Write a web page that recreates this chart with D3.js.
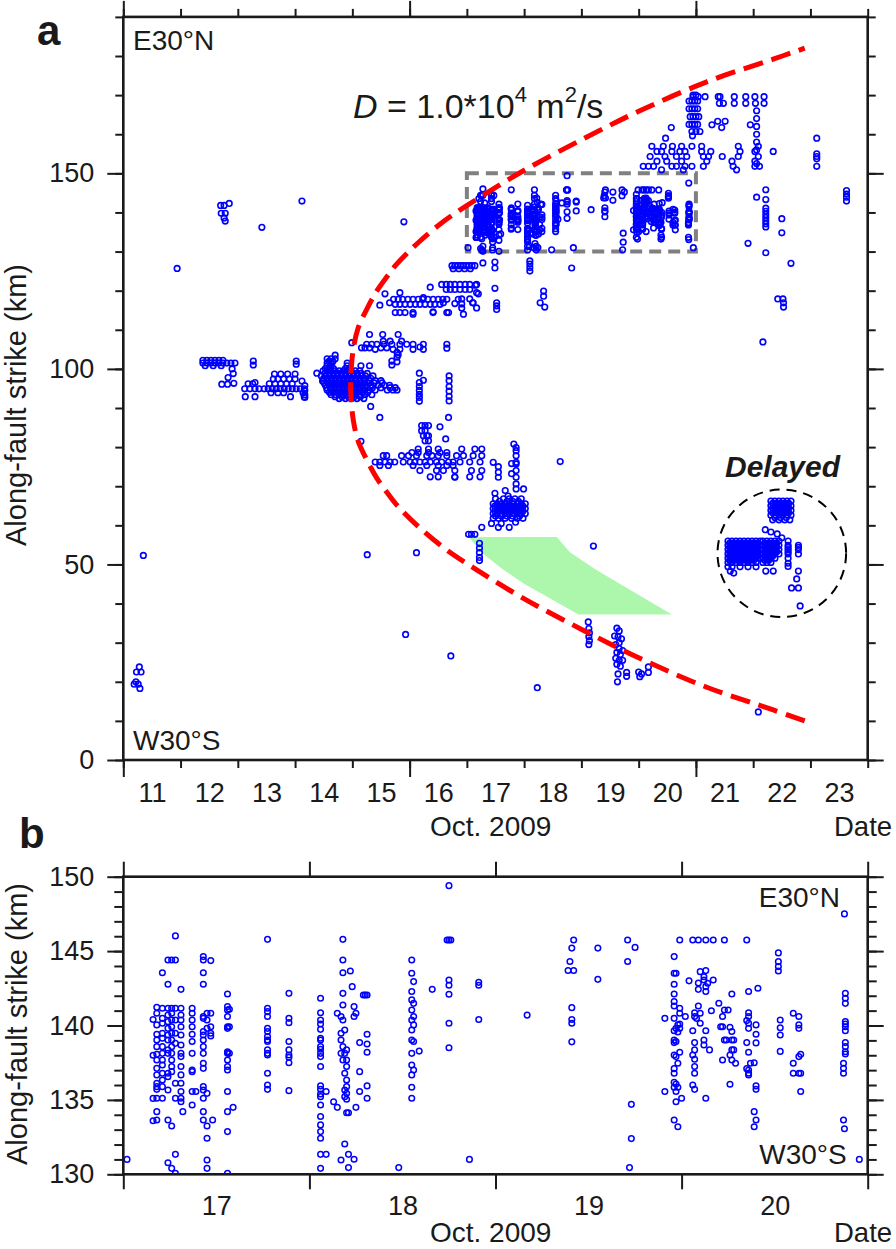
<!DOCTYPE html>
<html><head><meta charset="utf-8">
<script src="https://cdn.jsdelivr.net/npm/d3@7"></script>
<style>
html,body{margin:0;padding:0;background:#fff;}
svg{display:block;}
</style></head><body>
<svg id="chart" width="896" height="1249"></svg>
<script>
// ---------------- DATA (day of Oct 2009, km along strike) ----------------
const dayLabelsA = [11,12,13,14,15,16,17,18,19,20,21,22,23];
const kmTicksA = [0,50,100,150];
const dayLabelsB = [17,18,19,20];
const kmTicksB = [130,135,140,145,150];

// diffusion front (D = 1.0e4 m2/s), lower end -> upper end
const diffusionFront = [[22.90,10.0],[22.35,12.8],[21.19,18.6],[20.02,26.0],[19.03,33.2],[17.98,41.4],[17.11,49.2],[16.62,54.0],[16.13,60.0],[15.77,65.3],[15.60,68.5],[15.43,72.0],[15.26,76.5],[15.10,81.6],[15.02,86.6],[14.98,92],[14.97,96],
[14.98,100],[15.02,105.4],[15.10,110.4],[15.26,115.5],[15.43,120.0],[15.60,123.5],[15.77,126.7],[16.13,132.0],[16.62,138.0],[17.11,142.8],[17.98,150.6],[19.03,158.8],[20.02,166.0],[21.19,173.4],[22.35,179.2],[22.90,182.0]];

const greenZone = [[17.03,57.0],[18.57,57.0],[18.80,53.1],[19.27,48.5],[20.58,37.2],[18.95,37.2],[17.99,45.1],[17.58,49.3],[17.29,52.7]];
const zoomBox = [17,21,130,150];           // day0, day1, km0, km1
const delayedCircle = [22.50,52.85,1.123,16.3]; // day, km, radius(days), radius(km)

const eventsEarly = [[11.28,23.8],[11.23,22.5],[11.31,22.5],[11.22,20.0],[11.19,19.4],[11.26,19.4],[11.29,18.3],[11.35,52.3],[11.94,125.7],[12.70,141.8],[12.76,141.8],[12.85,142.3],[12.71,139.8],[12.78,139.8],[12.76,138.6],[12.78,137.8],[13.42,136.2],[14.12,142.9],[15.90,137.6],
[12.92,98.8],[12.83,97.8],[12.72,96.1],[12.82,96.1],[12.93,96.3],[12.90,100.0],[13.27,102.0],[13.27,101.0],[14.12,96.9],[14.02,102.0],[14.02,101.2],[14.17,95.7],[14.17,94.5],[14.17,93.4],[14.17,92.7],[13.30,96.5]];

const band95Rows = [
[94.9,[13.12,13.21,13.30,13.37,13.46,13.53,13.60,13.67,13.74,13.81,13.88,13.95,14.02,14.09,14.16]],
[96.2,[13.18,13.26,13.55,13.65,13.75,13.85,13.95]],
[97.4,[13.62,13.70,13.80,13.90,14.00]],
[98.7,[13.64,13.75,13.87,14.00]],
[92.9,[13.13,13.30,13.92,14.16]],
[93.9,[13.58,13.70,13.80,14.14]],
[101.5,[12.39,12.46,12.53,12.60,12.67,12.74,12.81,12.88,12.95]],
[102.2,[12.39,12.46,12.53,12.60,12.67,12.74]],
[100.8,[12.43,12.57,12.71]]];

const blobRows = [
[102.6,[14.56,14.63,14.70]],
[101.9,[14.59,14.66]],
[101.5,[14.56,14.63,14.91]],
[100.8,[14.56,14.63,14.91,15.15,15.30]],
[100.1,[14.53,14.60,14.67,14.88,14.95]],
[99.5,[14.49,14.56,14.63,14.70,14.77,14.84,14.91,14.98,15.05,15.13]],
[98.85,[14.52,14.59,14.66,14.73,14.80,14.87,14.94,15.01,15.08,15.15,15.26]],
[98.2,[14.46,14.53,14.60,14.67,14.74,14.81,14.88,14.95,15.02,15.09,15.16,15.23,15.36]],
[97.6,[14.50,14.57,14.64,14.71,14.78,14.85,14.92,14.99,15.06,15.13,15.20,15.32]],
[97.0,[14.49,14.56,14.63,14.70,14.77,14.84,14.91,14.98,15.05,15.13,15.22,15.29,15.40,15.50]],
[96.4,[14.51,14.58,14.65,14.72,14.79,14.86,14.93,15.00,15.07,15.14,15.21,15.27,15.38,15.52]],
[95.8,[14.53,14.60,14.67,14.74,14.81,14.88,14.95,15.02,15.09,15.16,15.23,15.32,15.45,15.56,15.65]],
[95.2,[14.55,14.62,14.69,14.76,14.83,14.90,14.97,15.04,15.11,15.18,15.25,15.35,15.50,15.66,15.75]],
[94.6,[14.56,14.63,14.70,14.77,14.84,14.91,14.98,15.05,15.13,15.22,15.29,15.40,15.61,15.71,15.78]],
[94.0,[14.60,14.67,14.74,14.81,14.88,14.95,15.02,15.09,15.17,15.27]],
[93.4,[14.63,14.70,14.77,14.84,14.91,14.98,15.05,15.13,15.22,15.34]],
[92.9,[14.70,14.82,14.93,15.03,15.14]],
[92.4,[14.77,14.88,14.98,15.08,15.20]]];

const eventsMid = [[14.38,98.9],[14.48,96.9],[15.32,90.4],[15.48,87.6],[15.15,81.5],[14.70,103.5],
[16.17,98.9],[16.17,96.5],[16.17,95.5],[16.17,94.5],[16.17,93.5],[16.17,92.7],[16.17,91.7],[16.24,97.1],
[16.69,98.2],[16.69,97.0],[16.69,95.5],[16.69,94.3],[16.69,93.0],[16.69,91.8],[16.68,87.6],[16.65,105.3],
[14.99,106.7],[15.16,105.4],[15.22,105.4],[15.25,106.3],[15.30,105.4],[15.34,106.3],[15.40,105.0],[15.43,106.3],[15.50,105.4],[15.55,106.3],[15.60,105.4],[15.69,106.3],[15.71,105.0],[15.83,106.3],[15.83,105.0],[15.95,106.3],[16.06,106.3],[16.06,105.0],[16.18,105.6],[16.24,106.3],[16.24,105.0],[16.65,106.3],[15.30,108.8],[15.53,108.8],[15.80,108.8],[15.54,107.1],[15.66,107.1],[15.86,107.1],[15.80,103.6],[15.69,102.0],[15.69,101.0],[15.78,104.2],[15.78,103.0],[15.78,101.8],
[15.48,116.3],[15.57,119.2],[15.65,116.9],[15.83,119.5],[16.06,114.0],[16.36,120.9],[16.24,118.2],
[16.59,116.9],[16.79,116.7],[16.85,117.8],[16.94,114.0],[17.05,117.9],[17.11,116.9],[17.17,115.6],[17.20,119.2],[17.49,120.6],[17.52,116.9],[17.52,116.1],[17.52,115.2],[18.34,119.9],[18.34,118.6],[18.28,116.9],[18.36,115.8],[16.41,114.6],[16.68,114.4],[16.91,117.9],[16.91,116.6],[16.91,115.6],[17.10,116.9],
[17.15,121.4],[17.17,119.5],
[17.28,127.1],[17.49,127.3],[17.49,125.8],[18.10,127.6],[18.10,126.8],[18.10,125.9],[18.10,125.0],[18.83,125.8]];

const band117Rows = [
[117.8,[15.72,15.80,15.88,15.97,16.06,16.15,16.23,16.32,16.41,16.50,16.58,16.65]],
[116.5,[15.75,15.83,15.92,16.01,16.10,16.18,16.27,16.36,16.44,16.53]],
[114.4,[15.75,15.83,15.92,16.06,16.41,16.65]],
[121.6,[16.56,16.64,16.71,16.79,16.88,16.97,17.05,17.17]],
[120.3,[16.64,16.71,16.79,16.88,16.97,17.05]],
[126.4,[16.74,16.79,16.84,16.89,16.94,16.99,17.04,17.09,17.14]],
[125.6,[16.76,16.86,16.96,17.06]]];

const band77Rows = [
[76.2,[15.40,15.48,15.57,15.66,15.74,15.89,16.01,16.09,16.18,16.27,16.36,16.47,16.56,16.68,16.76,16.88,17.05,17.23]],
[77.8,[15.54,15.60,15.86,15.98,16.12,16.30,16.39,16.50,16.65,16.82,16.94,17.11,17.26]],
[78.6,[16.04,16.15,16.33,16.53,16.65]],
[79.5,[16.15,16.33,16.50,16.91,17.14,17.26]],
[75.3,[15.48,15.63,16.06,16.30,16.50,16.65,16.76]],
[74.0,[16.18,16.47,16.59,16.79,17.08,17.26]],
[72.4,[16.36,16.50,16.79,17.05,17.23]]];

const cluster64Rows = [
[66.8,[17.50,17.64,17.74,17.84,17.95]],
[66.15,[17.57,17.70,17.80,17.90]],
[65.5,[17.46,17.53,17.60,17.67,17.74,17.81,17.88,17.95,18.02]],
[64.9,[17.49,17.56,17.63,17.70,17.77,17.84,17.91,17.98]],
[64.3,[17.46,17.53,17.60,17.67,17.74,17.81,17.88,17.95,18.02]],
[63.65,[17.49,17.56,17.63,17.70,17.77,17.84,17.91,17.98]],
[63.0,[17.46,17.53,17.60,17.67,17.74,17.81,17.88,17.95,18.02]],
[62.4,[17.50,17.60,17.70,17.80,17.92]],
[61.8,[17.46,17.55,17.67,17.78,17.88,17.98]]];

const eventsSouth = [[16.21,85.5],[16.27,85.5],[16.33,85.5],[16.21,84.2],[16.27,84.2],[16.24,82.9],[16.30,82.9],[16.33,82.9],[16.27,81.6],[16.33,81.6],[16.53,85.2],[16.63,82.1],
[17.86,79.9],[17.86,79.1],[17.86,77.8],[17.86,76.1],[17.86,75.7],[17.86,74.0],[17.86,72.3],[17.86,70.6],[17.86,69.3],[17.99,69.3],[17.82,80.8],
[18.63,76.3],[17.46,76.1],[17.55,75.0],[17.55,73.6],[17.55,72.3],[17.78,75.8],[17.78,73.2],[16.79,72.3],
[17.49,68.2],[17.67,68.9],[17.72,67.5],[17.55,59.5],[17.74,59.5],[17.43,60.5],[17.26,59.5],[17.60,60.5],[17.85,60.8],
[17.03,57.7],[17.08,57.7],[17.14,57.7],[17.22,55.4],[17.22,54.2],[17.22,53.0],[17.22,51.8],[17.22,51.0],
[15.26,52.5],[16.12,53.0],[15.93,32.1],[16.72,26.6],[18.23,18.5],[19.21,54.7],
[19.12,35.3],[19.13,33.6],[19.14,32.5],[19.13,31.5],[19.14,30.5],[19.13,29.5],
[19.62,33.7],[19.66,33.0],[19.58,31.7],[19.64,31.5],[19.70,31.0],[19.66,30.0],[19.60,29.5],[19.66,28.5],[19.72,28.0],[19.62,27.5],[19.68,27.0],[19.60,26.0],[19.66,25.5],[19.72,25.5],[19.62,24.5],[19.68,24.0],[19.64,22.0],[19.63,20.0],[19.79,22.4],[19.79,21.4],[20.00,22.5],[20.02,21.3],[20.05,22.0],[20.17,23.8],[20.17,22.4],[22.09,12.3]];

const eventsNE = [[20.95,169.6],[21.04,169.6],[21.16,169.6],[21.39,169.6],[21.42,169.6],[21.67,169.6],[21.87,169.6],[22.03,169.6],[22.19,169.6],[21.41,167.9],[21.48,167.9],[21.67,167.9],[21.87,167.9],[22.04,167.9],[22.19,167.9],
[20.88,168.5],[20.93,168.5],[20.98,168.5],[21.03,168.5],[20.88,166.5],[20.93,166.5],[20.98,166.5],[21.03,166.5],[20.90,164.5],[20.95,164.5],[21.00,164.5],[21.05,164.5],[20.88,162.5],[20.93,162.5],[20.98,162.5],[21.03,162.5],[20.93,160.7],[21.00,160.7],[20.95,170.0],[21.00,170.0],
[20.57,161.7],[20.47,159.0],[20.94,159.6],[21.07,160.7],[21.28,162.4],[21.38,163.3],[21.45,161.7],[21.51,163.3],[21.95,162.4],
[22.06,166.0],[22.06,164.0],[22.06,162.0],[22.06,160.0],[22.06,158.0],[22.06,156.0],[22.06,152.5],
[23.11,159.0],[23.11,155.0],[23.11,154.3],[23.11,153.7],[23.11,151.8],
[23.63,145.6],[23.63,144.7],[23.63,143.9],[23.63,142.9],
[22.22,145.8],[22.22,143.3],[22.22,141.1],[22.22,140.3],[22.22,139.5],[22.22,138.7],[22.22,137.9],[22.22,137.1],[22.22,136.3],[22.22,129.7],
[22.06,143.9],[22.50,138.4],[22.50,134.8],[21.91,132.1],[22.66,127.0],[22.43,117.9],[22.52,117.9],[22.53,116.9],[22.53,115.8],[22.17,106.9]];

const rowsNE = [
[156.9,[20.23,20.43,20.59,20.75,20.93,21.10,21.74,22.09]],
[155.6,[20.32,20.40,20.58,20.72,20.81,21.10,21.26,21.77,22.03,22.35]],
[154.3,[20.20,20.46,20.66,20.84,21.13,21.22,21.46,21.74,22.09]],
[153.1,[20.32,20.49,20.75,21.19,21.63,22.03]],
[151.8,[20.08,20.17,20.26,20.58,20.66,20.81,20.93,21.13,21.65,22.03,22.11]],
[150.9,[20.40,20.78,21.71]]];

const delayedRows = [
[56.0,[21.56,21.63,21.70,21.77,21.84,21.91,21.98,22.05,22.12,22.17,22.24,22.31,22.38,22.45,22.61]],
[55.45,[21.59,21.66,21.73,21.80,21.87,21.94,22.01,22.08,22.20,22.27,22.34,22.41]],
[54.9,[21.56,21.63,21.70,21.77,21.84,21.91,21.98,22.05,22.12,22.17,22.24,22.31,22.38,22.45,22.61,22.79]],
[54.35,[21.59,21.66,21.73,21.80,21.87,21.94,22.01,22.08,22.20,22.27,22.34,22.41,22.61,22.79]],
[53.8,[21.56,21.63,21.70,21.77,21.84,21.91,21.98,22.05,22.12,22.17,22.24,22.31,22.38,22.45,22.61,22.79]],
[53.25,[21.59,21.66,21.73,21.80,21.87,21.94,22.01,22.08,22.20,22.27,22.34,22.41,22.61]],
[52.7,[21.56,21.63,21.70,21.77,21.84,21.91,21.98,22.05,22.12,22.17,22.24,22.31,22.38,22.45,22.61,22.79]],
[52.15,[21.59,21.66,21.73,21.80,21.87,21.94,22.01,22.08,22.20,22.27,22.34]],
[51.6,[21.56,21.63,21.70,21.77,21.84,21.91,21.98,22.05,22.12,22.17,22.24,22.31,22.38,22.61]],
[51.05,[21.59,21.66,21.73,21.80,21.87,21.94,22.01,22.20,22.27]],
[50.5,[21.56,21.63,21.70,21.77,21.84,21.91,21.98,22.05,22.17,22.24,22.31]],
[49.4,[21.56,21.63,21.77,21.91,22.05]],
[66.2,[22.31,22.38,22.45,22.52,22.59,22.66]],
[65.6,[22.34,22.41,22.48,22.55,22.62]],
[65.0,[22.31,22.38,22.45,22.52,22.59,22.66]],
[64.4,[22.34,22.41,22.48,22.55,22.62]],
[63.8,[22.31,22.38,22.45,22.52,22.59,22.66]],
[63.2,[22.34,22.41,22.48,22.55,22.62]],
[62.6,[22.31,22.38,22.45,22.52,22.59,22.66]],
[62.0,[22.38,22.48,22.58]],
[61.4,[22.34,22.45,22.55,22.64]]];
const delayedExtra = [[22.21,58.9],[22.31,58.3],[22.42,57.8],[22.50,56.8],[22.22,48.3],[22.35,48.3],[21.60,48.3],[21.66,47.8],[22.79,48.3],[22.76,46.3],[22.67,44.0],[22.79,44.0],[22.82,39.4],[22.61,50.3],[22.61,49.5]];

// events inside the zoom box (panel b), by column: [day, [km...]]
const boxColumns = [
[17.02,[131.0]],
[17.16,[140.4,138.0,135.1,133.6]],
[17.18,[141.22,140.82,140.04,139.41,139.03,138.58,138.06,137.68,137.12,136.68,136.12,135.89,135.71,135.11,134.21,133.65]],
[17.21,[143.55,141.16,140.48,140.15,139.48,139.14,138.58,138.13,137.68,137.35,136.79,136.34,135.89,135.11]],
[17.24,[144.40,142.77,141.16,140.71,140.26,139.81,139.36,139.03,138.36,138.13,136.79,136.56,135.67,133.65,130.78]],
[17.26,[144.40,141.16,140.82,140.37,139.92,139.48,139.03,138.58,138.13,137.68,137.24,136.90,133.25,130.40]],
[17.28,[146.02,144.40,141.16,140.37,139.48,138.80,136.12,135.11,131.34,130.07]],
[17.31,[142.43,141.16,140.71,140.37,139.92,139.36,138.69,138.13,137.91,137.24,136.68,136.12,135.56,135.11,134.88]],
[17.32,[134.21]],
[17.37,[141.16,140.82,140.37,139.92,139.41,138.92,138.13,137.01,136.90,135.56,134.66]],
[17.39,[135.56]],
[17.43,[144.63,144.40,143.55,142.77,140.60,140.48,139.59,139.36,139.03,138.58,138.13,137.46,137.12,135.89,135.67,135.11,134.21,133.65]],
[17.45,[140.82,140.37,139.81,135.44,133.25,132.42,130.96,130.40]],
[17.47,[144.36,140.82,139.92,139.48,139.30]],
[17.48,[133.65]],
[17.56,[142.12,141.27,141.04,140.60,139.92,139.81,138.24,138.13,137.68,137.24,137.01,135.56,134.21,132.87,130.07]],
[17.57,[141.09,139.92,138.13]],
[17.59,[134.50]],
[17.775,[145.79,141.16,140.93,140.60,139.81,139.59,139.25,139.03,138.92,138.36,138.13,138.02,136.79,136.00,135.71]],
[17.89,[142.16,140.48,140.19,138.92,138.36,138.02,137.86,137.50,135.62]],
[18.06,[141.83,140.86,140.37,140.10,139.74,139.14,139.03,138.58,138.40,138.13,137.91,137.24,135.94,135.71,135.40,135.22,134.66,133.88,133.32,132.87,132.42,131.34,130.40]],
[18.09,[135.56,131.34]],
[18.13,[134.88]],
[18.15,[134.50,140.82]],
[18.17,[140.60,139.48,139.03,138.13,130.96]],
[18.18,[145.79,144.40,143.55,142.16,141.38,140.37,138.58,137.68]],
[18.19,[139.70,138.13,136.79,135.67,135.22,132.04]],
[18.20,[138.36,137.68,137.24,136.34,135.89,135.44,135.04,134.14]],
[18.21,[134.14,131.34,130.45]],
[18.22,[143.66]],
[18.23,[142.61]],
[18.24,[141.27,140.60,131.01]],
[18.25,[140.82,134.50]],
[18.27,[138.85,136.90,135.56]],
[18.29,[142.05]],
[18.30,[142.05]],
[18.31,[142.05,139.41,138.76,138.20,135.94,135.11]],
[18.48,[130.45]],
[18.55,[144.40,143.51,142.28,141.72,141.04,140.37,139.70,139.03,138.13,137.35,136.68,135.85,135.11]],
[18.56,[142.95,141.49,140.60,140.04,138.92,137.01]],
[18.59,[138.28]],
[18.66,[142.43]],
[18.74,[145.75]],
[18.75,[149.40,145.75,143.06,142.70,142.10,140.15,138.50]],
[18.76,[145.75]],
[18.86,[131.0]],
[18.91,[142.9,142.7,140.4]],
[19.17,[140.7]],
[19.39,[143.7]],
[19.40,[144.3]],
[19.41,[145.2,141.2,140.4,140.15,138.9]],
[19.42,[145.75,143.7]],
[19.55,[145.2,143.1]],
[19.71,[145.75,144.3]],
[19.72,[130.45]],
[19.73,[134.7,132.4]],
[19.75,[145.25]],
[19.91,[140.48,135.56]],
[19.96,[144.63,143.51,142.77,142.12,141.61,141.31,140.48,139.65,139.03,138.85,138.02,137.10,136.79,136.18,135.85,133.65]],
[19.97,[143.51,139.81,138.92,137.91,136.07,135.56,134.88]],
[19.98,[140.04,139.56,137.46,135.85,133.20]],
[19.99,[145.75,141.16,140.82,140.10,139.81,138.20]],
[20.00,[135.11]],
[20.02,[140.60]],
[20.04,[143.0]],
[20.06,[145.75,139.65,138.02,136.00]],
[20.07,[140.86,140.60,138.85,138.36,137.73,137.24,136.79,135.71]],
[20.08,[140.48]],
[20.09,[145.75,142.86,142.43,141.31]],
[20.10,[140.82,143.62,140.15]],
[20.12,[143.28,143.06,139.03,138.69]],
[20.13,[145.75,143.69,142.61,142.28,139.65,135.11]],
[20.14,[142.84]],
[20.15,[138.36]],
[20.16,[140.99]],
[20.17,[145.75,143.06]],
[20.20,[141.5]],
[20.21,[139.92]],
[20.22,[140.6,139.92,137.68]],
[20.23,[145.75,141.04,139.03]],
[20.24,[139.03]],
[20.25,[141.04]],
[20.26,[139.88,138.02,136.05]],
[20.27,[139.6,139.03,138.36,137.68,142.12]],
[20.28,[139.03,138.36]],
[20.29,[137.46]],
[20.35,[145.75,140.33,138.85,137.1]],
[20.36,[142.28,140.86,140.6,140.15,139.81,138.2,137.01,136.79,136.68]],
[20.37,[137.46]],
[20.39,[137.5,134.21,133.2]],
[20.40,[140.04,139.41,138.83,135.94,135.71,133.65]],
[20.41,[142.5]],
[20.52,[144.88,144.29,143.96,143.66]],
[20.53,[140.37,139.85,139.36,138.26]],
[20.60,[140.82,137.46,136.79]],
[20.63,[140.60,140.04,139.81,137.91,136.79]],
[20.64,[138.06,136.79,135.56]],
[20.875,[147.5,133.06]],
[20.88,[142.16,141.83,141.49,140.26,140.10,139.92,139.65,138.85,138.58,138.24,138.08]],
[20.87,[137.46,137.12,136.79,133.65]],
[20.955,[131.0]]];

// ---------------- BUILD ----------------
const fromRows = rows => rows.flatMap(([km, days]) => days.map(d => [d, km]));
const fromCols = cols => cols.flatMap(([d, kms]) => kms.map(k => [d, k]));
const boxEvents = fromCols(boxColumns);
const allEvents = [].concat(eventsEarly, fromRows(band95Rows), fromRows(blobRows), eventsMid,
  fromRows(band117Rows), fromRows(band77Rows), fromRows(cluster64Rows), eventsSouth,
  eventsNE, fromRows(rowsNE), fromRows(delayedRows), delayedExtra, boxEvents);

const FONT = '"Liberation Sans", Arial, Helvetica, sans-serif';
const INK = "#1a1a1a";
const BLUE = "#0000ff";
const svg = d3.select("#chart");

function styleAxis(g, fontSize) {
  g.select(".domain").remove();
  g.selectAll(".tick line").attr("stroke", INK).attr("stroke-width", 2);
  g.selectAll(".tick text").attr("font-family", FONT).attr("font-size", fontSize).attr("fill", INK);
}
function addAxis(axis, transform, fontSize) {
  const g = svg.append("g").attr("transform", transform).call(axis);
  styleAxis(g, fontSize || 27);
  return g;
}
function text(x, y, str, opts) {
  const t = svg.append("text").attr("x", x).attr("y", y).text(str)
    .attr("font-family", FONT).attr("fill", INK).attr("font-size", opts.size || 28);
  if (opts.weight) t.attr("font-weight", opts.weight);
  if (opts.style) t.attr("font-style", opts.style);
  if (opts.anchor) t.attr("text-anchor", opts.anchor);
  return t;
}

// ---------- Panel a ----------
const A = {l:123.3, r:867.7, t:16.9, b:760};
const xA = d3.scaleLinear().domain([11,24]).range([A.l, A.r]);
const yA = d3.scaleLinear().domain([0,190]).range([A.b, A.t]);

svg.append("path")
  .attr("d", d3.line().x(d => xA(d[0])).y(d => yA(d[1]))(greenZone) + "Z")
  .attr("fill", "#adf7ad").attr("stroke", "none");

svg.append("rect")
  .attr("x", xA(zoomBox[0])).attr("y", yA(zoomBox[3]))
  .attr("width", xA(zoomBox[1]) - xA(zoomBox[0])).attr("height", yA(zoomBox[2]) - yA(zoomBox[3]))
  .attr("fill", "none").attr("stroke", "#808080").attr("stroke-width", 4).attr("stroke-dasharray", "12,7");

svg.append("g").selectAll("circle").data(allEvents).join("circle")
  .attr("cx", d => xA(d[0])).attr("cy", d => yA(d[1])).attr("r", 2.8)
  .attr("fill", "none").attr("stroke", BLUE).attr("stroke-width", 1.6);

svg.append("path")
  .attr("d", d3.line().x(d => xA(d[0])).y(d => yA(d[1])).curve(d3.curveCatmullRom.alpha(0.5))(diffusionFront))
  .attr("fill", "none").attr("stroke", "#ff0000").attr("stroke-width", 5).attr("stroke-dasharray", "20,9");

svg.append("ellipse")
  .attr("cx", xA(delayedCircle[0])).attr("cy", yA(delayedCircle[1]))
  .attr("rx", xA(delayedCircle[0] + delayedCircle[2]) - xA(delayedCircle[0]))
  .attr("ry", yA(delayedCircle[1] - delayedCircle[3]) - yA(delayedCircle[1]))
  .attr("fill", "none").attr("stroke", "#000").attr("stroke-width", 2).attr("stroke-dasharray", "10,7");

svg.append("rect").attr("x", A.l).attr("y", A.t).attr("width", A.r - A.l).attr("height", A.b - A.t)
  .attr("fill", "none").attr("stroke", INK).attr("stroke-width", 2.6);

const minorKmA = d3.range(0,191,10);
const dayTicksA = d3.range(11,25);
const majorDaysA = [11,16,21];
addAxis(d3.axisLeft(yA).tickValues(kmTicksA).tickSize(16).tickPadding(13).tickFormat(d3.format("d")), `translate(${A.l},0)`);
addAxis(d3.axisLeft(yA).tickValues(minorKmA).tickSize(8).tickFormat(""), `translate(${A.l},0)`);
addAxis(d3.axisRight(yA).tickValues(kmTicksA).tickSize(16).tickFormat(""), `translate(${A.r},0)`);
addAxis(d3.axisRight(yA).tickValues(minorKmA).tickSize(8).tickFormat(""), `translate(${A.r},0)`);
addAxis(d3.axisBottom(xA).tickValues(dayTicksA).tickSize(8).tickFormat(""), `translate(0,${A.b})`);
addAxis(d3.axisBottom(xA).tickValues(majorDaysA).tickSize(17).tickFormat(""), `translate(0,${A.b})`);
addAxis(d3.axisTop(xA).tickValues(dayTicksA).tickSize(8).tickFormat(""), `translate(0,${A.t})`);
addAxis(d3.axisTop(xA).tickValues(majorDaysA).tickSize(16).tickFormat(""), `translate(0,${A.t})`);
addAxis(d3.axisBottom(xA).tickValues(dayLabelsA.map(d => d + 0.5)).tickSize(0).tickPadding(23).tickFormat(d => Math.floor(d)), `translate(0,${A.b})`);

text(37, 45, "a", {size: 42, weight: "bold"});
text(133, 50, "E30°N", {size: 28});
text(133, 750, "W30°S", {size: 28});
text(430, 836, "Oct. 2009", {size: 28});
text(834, 836, "Date", {size: 27.5});
svg.append("text").attr("transform", "translate(26,405) rotate(-90)").attr("text-anchor", "middle")
  .attr("font-family", FONT).attr("font-size", 29).attr("fill", INK).text("Along-fault strike (km)");
const dt = svg.append("text").attr("x", 353).attr("y", 118).attr("font-family", FONT).attr("font-size", 34).attr("fill", INK);
dt.append("tspan").attr("font-style", "italic").text("D");
dt.append("tspan").text(" = 1.0*10");
dt.append("tspan").attr("dy", -16).attr("font-size", 22).text("4");
dt.append("tspan").attr("dy", 16).text(" m");
dt.append("tspan").attr("dy", -16).attr("font-size", 22).text("2");
dt.append("tspan").attr("dy", 16).text("/s");
text(725, 477, "Delayed", {size: 30, weight: "bold", style: "italic"});

// ---------- Panel b ----------
const B = {l:123.3, r:867.7, t:876.7, b:1174.3};
const xB = d3.scaleLinear().domain([zoomBox[0], zoomBox[1]]).range([B.l, B.r]);
const yB = d3.scaleLinear().domain([zoomBox[2], zoomBox[3]]).range([B.b, B.t]);

svg.append("clipPath").attr("id", "clipB").append("rect")
  .attr("x", B.l).attr("y", B.t).attr("width", B.r - B.l).attr("height", B.b - B.t);
svg.append("g").attr("clip-path", "url(#clipB)").selectAll("circle").data(boxEvents).join("circle")
  .attr("cx", d => xB(d[0])).attr("cy", d => yB(d[1])).attr("r", 2.8)
  .attr("fill", "none").attr("stroke", BLUE).attr("stroke-width", 1.5);

svg.append("rect").attr("x", B.l).attr("y", B.t).attr("width", B.r - B.l).attr("height", B.b - B.t)
  .attr("fill", "none").attr("stroke", INK).attr("stroke-width", 2.6);

const minorKmB = d3.range(130,151,1);
const dayTicksB = d3.range(17,22);
addAxis(d3.axisLeft(yB).tickValues(kmTicksB).tickSize(16).tickPadding(13).tickFormat(d3.format("d")), `translate(${B.l},0)`);
addAxis(d3.axisLeft(yB).tickValues(minorKmB).tickSize(9).tickFormat(""), `translate(${B.l},0)`);
addAxis(d3.axisRight(yB).tickValues(kmTicksB).tickSize(16).tickFormat(""), `translate(${B.r},0)`);
addAxis(d3.axisRight(yB).tickValues(minorKmB).tickSize(9).tickFormat(""), `translate(${B.r},0)`);
addAxis(d3.axisBottom(xB).tickValues(dayTicksB).tickSize(15).tickFormat(""), `translate(0,${B.b})`);
addAxis(d3.axisTop(xB).tickValues(dayTicksB).tickSize(15).tickFormat(""), `translate(0,${B.t})`);
addAxis(d3.axisBottom(xB).tickValues(dayLabelsB.map(d => d + 0.5)).tickSize(0).tickPadding(21.5).tickFormat(d => Math.floor(d)), `translate(0,${B.b})`);

text(19, 848, "b", {size: 42, weight: "bold"});
text(840, 907, "E30°N", {size: 28, anchor: "end"});
text(846.7, 1164, "W30°S", {size: 28, anchor: "end"});
text(430, 1242, "Oct. 2009", {size: 28});
text(834, 1242, "Date", {size: 27.5});
svg.append("text").attr("transform", "translate(27,1024) rotate(-90)").attr("text-anchor", "middle")
  .attr("font-family", FONT).attr("font-size", 29).attr("fill", INK).text("Along-fault strike (km)");
</script>
</body></html>
